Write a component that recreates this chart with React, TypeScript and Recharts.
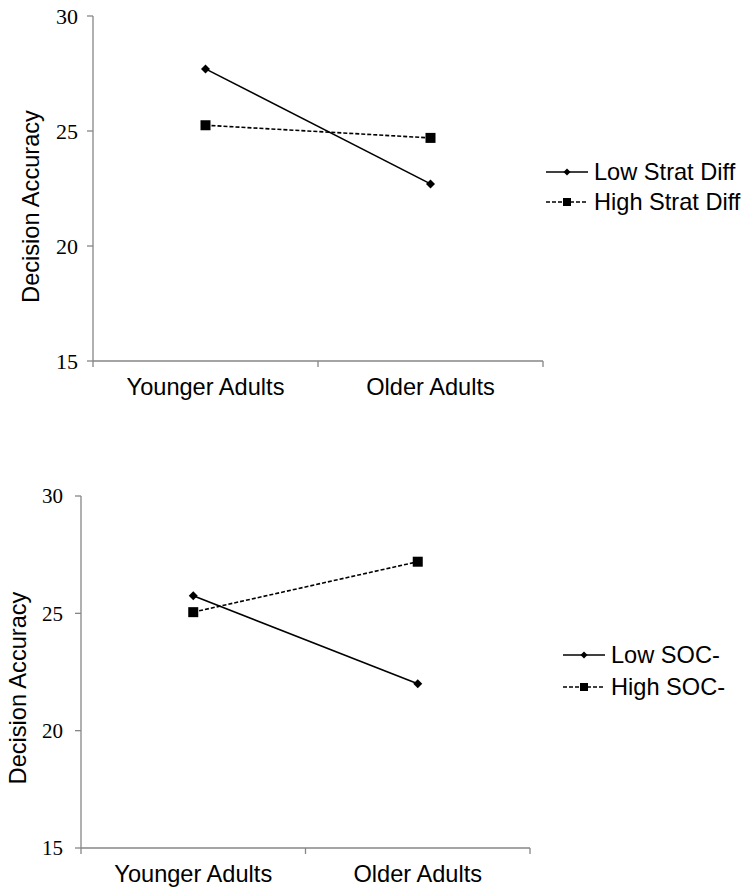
import React from "react"
import { LineChart, Line, XAxis, YAxis, Legend } from "recharts"

const categories = ["Younger Adults", "Older Adults"]
const yTicks = [15, 20, 25, 30]

const stratLow = [27.7, 22.7]
const stratHigh = [25.25, 24.7]
const socLow = [25.75, 22.0]
const socHigh = [25.05, 27.2]

const stratNames = ["Low Strat Diff", "High Strat Diff"]
const socNames = ["Low SOC-", "High SOC-"]

const AXIS = "#868686"
const SANS = "'Liberation Sans', Arial, sans-serif"
const SERIF = "'Liberation Serif', 'Times New Roman', serif"
const FS = 23.6

function buildRows(low: number[], high: number[]) {
  return categories.map((c, i) => ({ x: i + 0.5, name: c, low: low[i], high: high[i] }))
}

const diamondDot = (r: number) => (props: any) => {
  const { cx, cy, key } = props
  if (cx == null || cy == null) return <g key={key} />
  return <polygon key={key} points={`${cx},${cy - r} ${cx + r},${cy} ${cx},${cy + r} ${cx - r},${cy}`} fill="#000" />
}

const squareDot = (r: number) => (props: any) => {
  const { cx, cy, key } = props
  if (cx == null || cy == null) return <g key={key} />
  return <rect key={key} x={cx - r} y={cy - r} width={r * 2} height={r * 2} fill="#000" />
}

const XTick = (props: any) => {
  const { x, y, payload } = props
  const v = payload.value
  if (Number.isInteger(v)) {
    return <line x1={x} x2={x} y1={y - 6} y2={y} stroke={AXIS} strokeWidth={1.3} />
  }
  return (
    <text x={x} y={y + 28} textAnchor="middle" fontFamily={SANS} fontSize={FS} fill="#000">
      {categories[Math.floor(v)]}
    </text>
  )
}

interface PanelProps {
  top: number
  height: number
  plotHeight: number
  axisWidth: number
  marginRight: number
  low: number[]
  high: number[]
  names: string[]
  legendPad: number
  legendTop: number
  rowH: number
  yFont: number
  yMargin: number
  labelX: number
  labelShift: number
}

function Panel(p: PanelProps) {
  const data = buildRows(p.low, p.high)

  const renderLegend = () => (
    <div style={{ width: 200, paddingLeft: p.legendPad, boxSizing: "border-box" }}>
      {p.names.map((n, i) => (
        <div key={n} style={{ display: "flex", alignItems: "center", height: p.rowH }}>
          <svg width={42} height={p.rowH} style={{ display: "block" }}>
            <line
              x1={0}
              x2={42}
              y1={p.rowH / 2}
              y2={p.rowH / 2}
              stroke="#000"
              strokeWidth={1.4}
              strokeDasharray={i === 1 ? "4 2" : undefined}
            />
            {i === 0 ? (
              <polygon
                points={`21,${p.rowH / 2 - 3.5} 24.5,${p.rowH / 2} 21,${p.rowH / 2 + 3.5} 17.5,${p.rowH / 2}`}
                fill="#000"
              />
            ) : (
              <rect x={17} y={p.rowH / 2 - 4} width={8} height={8} fill="#000" />
            )}
          </svg>
          <span style={{ marginLeft: 6, fontFamily: SANS, fontSize: FS, color: "#000", whiteSpace: "nowrap" }}>{n}</span>
        </div>
      ))}
    </div>
  )

  return (
    <div style={{ position: "absolute", left: 0, top: p.top }}>
      <LineChart width={751} height={p.height} data={data} margin={{ top: 16, right: p.marginRight, bottom: 0, left: 0 }}>
        <XAxis
          dataKey="x"
          type="number"
          domain={[0, 2]}
          ticks={[0, 0.5, 1, 1.5, 2]}
          interval={0}
          height={p.height - 16 - p.plotHeight}
          tickLine={false}
          tickSize={6}
          tickMargin={0}
          axisLine={{ stroke: AXIS, strokeWidth: 1.3 }}
          tick={XTick}
        />
        <YAxis
          type="number"
          domain={[15, 30]}
          ticks={yTicks}
          interval={0}
          width={p.axisWidth}
          tickSize={6}
          tickMargin={p.yMargin}
          axisLine={{ stroke: AXIS, strokeWidth: 1.3 }}
          tickLine={{ stroke: AXIS, strokeWidth: 1.3 }}
          tick={{ fontFamily: SERIF, fontSize: p.yFont, fill: "#000" }}
          label={{
            content: (lp: any) => {
              const vb = lp.viewBox || {}
              const cx = vb.x + p.labelX
              const cy = vb.y + vb.height / 2 + p.labelShift
              return (
                <text
                  x={cx}
                  y={cy}
                  transform={`rotate(-90, ${cx}, ${cy})`}
                  textAnchor="middle"
                  dominantBaseline="central"
                  fontFamily={SANS}
                  fontSize={FS}
                  fill="#000"
                >
                  Decision Accuracy
                </text>
              )
            },
          }}
        />
        <Legend
          layout="vertical"
          align="right"
          verticalAlign="middle"
          content={renderLegend}
          wrapperStyle={{ top: p.legendTop }}
        />
        <Line
          type="linear"
          dataKey="low"
          name={p.names[0]}
          stroke="#000"
          strokeWidth={1.6}
          dot={diamondDot(4.5)}
          activeDot={false}
          isAnimationActive={false}
        />
        <Line
          type="linear"
          dataKey="high"
          name={p.names[1]}
          stroke="#000"
          strokeWidth={1.6}
          strokeDasharray="4 2"
          dot={squareDot(5)}
          activeDot={false}
          isAnimationActive={false}
        />
      </LineChart>
    </div>
  )
}

export default function App() {
  return (
    <div style={{ position: "absolute", left: 0, top: 0, width: 751, height: 896, background: "#fff" }}>
      <Panel
        top={0}
        height={411}
        plotHeight={345}
        axisWidth={93}
        marginRight={8}
        low={stratLow}
        high={stratHigh}
        names={stratNames}
        legendPad={3}
        legendTop={157}
        rowH={30}
        yFont={22}
        yMargin={9}
        labelX={31}
        labelShift={18}
      />
      <Panel
        top={480}
        height={412}
        plotHeight={352}
        axisWidth={81}
        marginRight={21}
        low={socLow}
        high={socHigh}
        names={socNames}
        legendPad={33}
        legendTop={159}
        rowH={32}
        yFont={21}
        yMargin={12}
        labelX={18}
        labelShift={16}
      />
    </div>
  )
}
